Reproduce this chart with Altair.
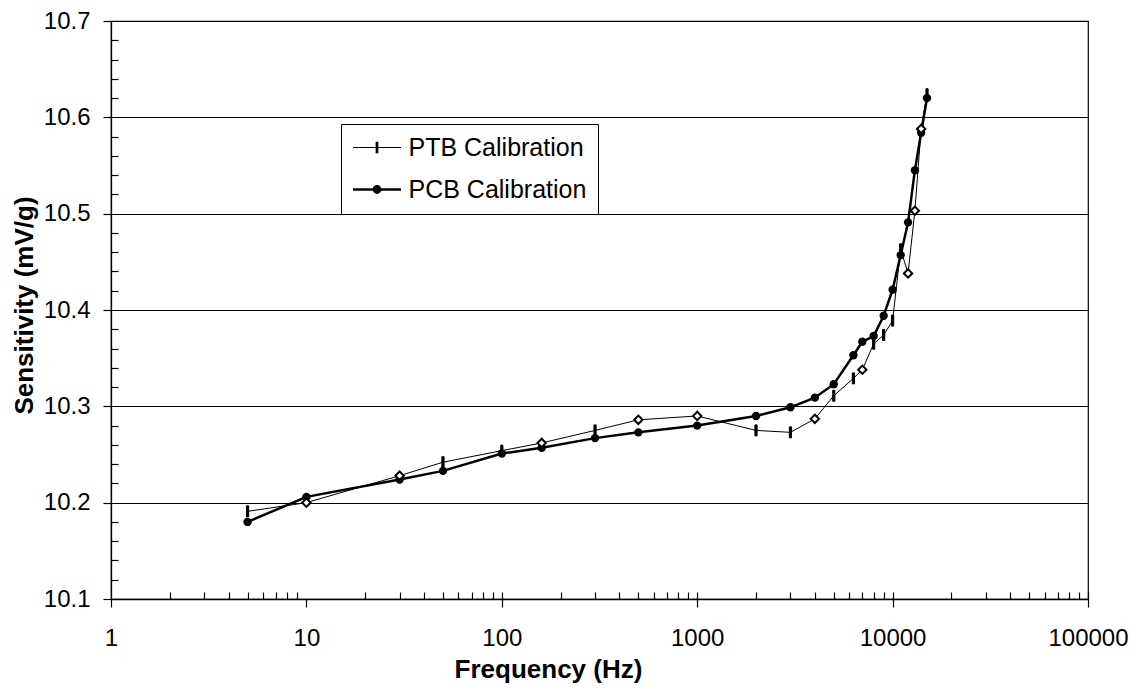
import altair as alt
import pandas as pd

# ---------------- data ----------------
freq_hz = [5, 10, 30, 50, 100, 160, 300, 500, 1000, 2000, 3000, 4000, 5000,
           6300, 7000, 8000, 9000, 10000, 11000, 12000, 13000, 14000, 15000]
ptb_sens = [10.191, 10.200, 10.228, 10.242, 10.254, 10.262, 10.275, 10.286, 10.290,
            10.275, 10.273, 10.287, 10.311, 10.329, 10.338, 10.365, 10.374, 10.389,
            10.463, 10.438, 10.503, 10.588, 10.624]
pcb_sens = [10.180, 10.206, 10.224, 10.233, 10.251, 10.257, 10.267, 10.273, 10.280,
            10.290, 10.299, 10.309, 10.323, 10.353, 10.367, 10.373, 10.394, 10.421,
            10.457, 10.491, 10.545, 10.584, 10.620]
series_names = ["PTB Calibration", "PCB Calibration"]
# PTB points drawn with an open diamond instead of a dash
ptb_open_marker_freqs = [10, 30, 160, 500, 1000, 4000, 7000, 12000, 13000, 14000]

x_major = [1, 10, 100, 1000, 10000, 100000]
y_major = [10.1, 10.2, 10.3, 10.4, 10.5, 10.6, 10.7]
x_minor = [m * d for d in [1, 10, 100, 1000, 10000] for m in range(2, 10)] + [100, 1000, 10000, 100000]
y_minor = [round(10.1 + 0.02 * i, 2) for i in range(1, 30) if i % 5 != 0]

# ---------------- tables ----------------
ptb_df = pd.DataFrame({"freq": freq_hz, "value": ptb_sens, "series": series_names[0]})
pcb_df = pd.DataFrame({"freq": freq_hz, "value": pcb_sens, "series": series_names[1]})
ptb_df["open_marker"] = ptb_df["freq"].isin(ptb_open_marker_freqs)
ptb_dash_df = ptb_df[~ptb_df["open_marker"]]
ptb_diam_df = ptb_df[ptb_df["open_marker"]]
all_df = pd.concat([ptb_df.drop(columns="open_marker"), pcb_df], ignore_index=True)

FONT = "Liberation Sans"
x_scale = alt.Scale(type="log", domain=[1, 100000], nice=False)
y_scale = alt.Scale(domain=[10.1, 10.7], nice=False, zero=False)


def enc(xaxis=None, yaxis=None):
    return dict(
        x=alt.X("freq:Q", scale=x_scale, axis=xaxis),
        y=alt.Y("value:Q", scale=y_scale, axis=yaxis),
    )


x_axis_major = alt.Axis(
    values=x_major, format="d", title="Frequency (Hz)", orient="bottom",
    tickSize=8, labelPadding=38, labelBaseline="alphabetic", labelFlush=False,
    labelOverlap=False, labelBound=False, grid=False,
    titleX=437, titleY=78, titleBaseline="alphabetic",
)
y_axis_major = alt.Axis(
    values=y_major, format=".1f", title="Sensitivity (mV/g)", orient="left",
    tickSize=8, labelPadding=13, grid=True, labelOverlap=False,
    titleX=-79, titleY=284, titleBaseline="alphabetic", titleAngle=270,
)
x_axis_minor = alt.Axis(values=x_minor, orient="bottom", tickSize=7, offset=-7,
                        labels=False, domain=False, grid=False, title=None)
y_axis_minor = alt.Axis(values=y_minor, orient="left", tickSize=7, offset=-7,
                        labels=False, domain=False, grid=False, title=None)

# main axes carried by the PCB line
pcb_line = alt.Chart(pcb_df).mark_line(color="black", strokeWidth=2.5).encode(
    **enc(x_axis_major, y_axis_major))

minor_axes = alt.Chart(all_df).transform_filter("false").mark_point(opacity=0).encode(
    **enc(x_axis_minor, y_axis_minor))

pcb_pts = alt.Chart(pcb_df).mark_point(
    shape="circle", filled=True, color="black", size=70, opacity=1).encode(**enc())

ptb_line = alt.Chart(ptb_df).mark_line(color="black", strokeWidth=1).encode(**enc())

dash_path = "M-0.2,-1H0.2V1H-0.2Z"
ptb_dash = alt.Chart(ptb_dash_df).mark_point(
    shape=dash_path, filled=True, fill="black", stroke="black", strokeWidth=1,
    size=121, opacity=1).encode(**enc())

ptb_diam = alt.Chart(ptb_diam_df).mark_point(
    shape="diamond", filled=True, fill="white", stroke="black", strokeWidth=2,
    size=70, opacity=1).encode(**enc())

# legend symbols: line + marker, all as filled outlines (1 unit = 8 px)
ptb_sym = "M-3,-0.07H3V0.07H-3ZM-0.17,-0.72H0.17V0.72H-0.17Z"
pcb_sym = ("M-3,-0.16H3V0.16H-3Z"
           "M-0.55,0A0.55,0.55 0 1,1 0.55,0A0.55,0.55 0 1,1 -0.55,0Z")
leg = alt.Legend(
    title=None, orient="none", legendX=230, legendY=103,
    strokeColor="black", fillColor="white", padding=11,
    symbolSize=256, symbolOffset=12.5, labelOffset=19,
    symbolOpacity=1, symbolFillColor="black", symbolStrokeColor="black",
    symbolStrokeWidth=0,
    labelFont=FONT, labelFontSize=25, labelColor="black", labelLimit=400,
    rowPadding=16,
)
legend_layer = alt.Chart(all_df).transform_filter("false").mark_point(
    filled=True, fill="black").encode(
    **enc(),
    shape=alt.Shape("series:N", scale=alt.Scale(domain=series_names, range=[ptb_sym, pcb_sym]),
                    legend=leg),
)

chart = alt.layer(
    pcb_line, minor_axes, pcb_pts, ptb_line, ptb_dash, ptb_diam, legend_layer
).resolve_axis(
    x="independent", y="independent"
).properties(
    width=977, height=578,
    autosize=alt.AutoSizeParams(type="none"),
    padding={"left": 103, "top": 13, "right": 41, "bottom": 84},
    background="white",
).configure_view(
    stroke="black", strokeWidth=1.2
).configure_axis(
    labelFont=FONT, labelFontSize=24, labelColor="black",
    titleFont=FONT, titleFontSize=26, titleFontWeight="bold", titleColor="black",
    domainColor="black", domainWidth=1.3, tickColor="black", tickWidth=1.2,
    gridColor="black", gridWidth=1.2, gridOpacity=1,
)

chart.save("out.html", embed_options={"renderer": "svg", "actions": False})
